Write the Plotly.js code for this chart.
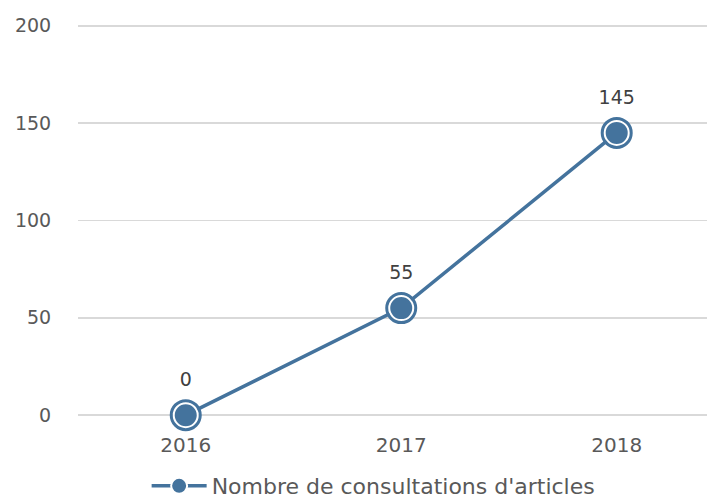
<!DOCTYPE html>
<html>
<head>
<meta charset="utf-8">
<script src="https://cdn.plot.ly/plotly-3.0.1.min.js"></script>
<style>
  html, body { margin: 0; padding: 0; background: #fff; }
  #chart { width: 707px; height: 498px; }
</style>
</head>
<body>
<div id="chart"></div>
<script>
var years = ["2016", "2017", "2018"];
var consultations = [0, 55, 145];
var seriesName = "Nombre de consultations d'articles";

var blue = "#44739D";
var font = "DejaVu Sans, sans-serif";

// line + filled centre with white ring
var main = {
  x: years,
  y: consultations,
  type: "scatter",
  mode: "lines+markers",
  name: seriesName,
  line: { color: blue, width: 3.5 },
  marker: { size: 24, color: blue, line: { color: "#ffffff", width: 2 } },
  cliponaxis: false,
  hoverinfo: "skip"
};

// outer ring
var ring = {
  x: years,
  y: consultations,
  type: "scatter",
  mode: "markers",
  marker: { symbol: "circle-open", size: 29, color: blue, line: { color: blue, width: 3 } },
  cliponaxis: false,
  showlegend: false,
  hoverinfo: "skip"
};

// data labels (invisible marker just sets the offset)
var labels = {
  x: years,
  y: consultations,
  type: "scatter",
  mode: "markers+text",
  text: consultations.map(String),
  textposition: "top center",
  textfont: { family: font, size: 19, color: "#404040" },
  marker: { size: 37, color: "rgba(0,0,0,0)" },
  cliponaxis: false,
  showlegend: false,
  hoverinfo: "skip"
};

var layout = {
  width: 707,
  height: 498,
  margin: { l: 78, r: 0, t: 20, b: 77, autoexpand: false },
  paper_bgcolor: "#ffffff",
  plot_bgcolor: "#ffffff",
  font: { family: font, size: 19, color: "#595959" },
  showlegend: true,
  legend: {
    orientation: "h",
    x: 0.47,
    xanchor: "center",
    yref: "container",
    y: 0.024,
    yanchor: "middle",
    itemwidth: 55,
    font: { family: font, size: 22, color: "#595959" }
  },
  xaxis: {
    type: "category",
    range: [-0.5, 2.419],
    showgrid: false,
    showline: false,
    zeroline: false,
    ticks: "outside",
    ticklen: 6,
    tickcolor: "rgba(0,0,0,0)",
    tickfont: { family: font, size: 20, color: "#595959" }
  },
  yaxis: {
    range: [-3, 203],
    tickvals: [0, 50, 100, 150, 200],
    showgrid: true,
    gridcolor: "#D9D9D9",
    gridwidth: 1.5,
    zeroline: false,
    showline: false,
    ticks: "outside",
    ticklen: 22,
    tickcolor: "rgba(0,0,0,0)",
    tickfont: { family: font, size: 19, color: "#595959" }
  }
};

Plotly.newPlot("chart", [main, ring, labels], layout, { displayModeBar: false, staticPlot: true });
</script>
</body>
</html>
